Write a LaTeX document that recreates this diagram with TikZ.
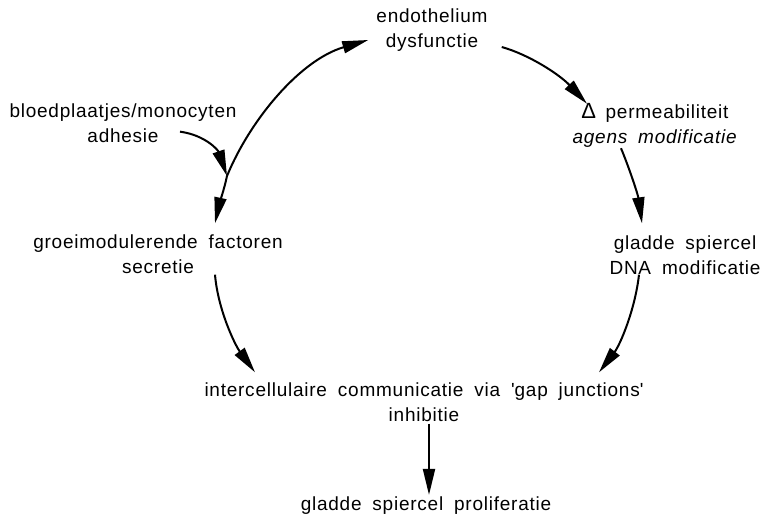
\documentclass[tikz,border=0pt]{standalone}
\usepackage{fontspec}
\setmainfont{Liberation Sans}[LetterSpace=4,WordSpace=1.8]
\usetikzlibrary{arrows.meta}
\begin{document}
\begin{tikzpicture}[x=1pt,y=-1pt,
  lbl/.style={align=center,inner sep=2pt,font=\fontsize{19}{25}\selectfont},
  conn/.style={line width=2pt,-{Triangle[length=26pt,width=12pt]}}]
\useasboundingbox (0,0) rectangle (768,519);
\node[lbl] (endo) at (432,30) {endothelium\\dysfunctie};
\node[lbl] (perm) at (655,125) {{\fontsize{22}{25}\selectfont Δ}\hspace{0.5em}permeabiliteit\\\textit{agens modificatie}};
\node[lbl] (dna) at (685,255) {gladde spiercel\\DNA modificatie};
\node[lbl] (bloed) at (123,123) {bloedplaatjes/monocyten\\adhesie};
\node[lbl] (groei) at (158,254) {groeimodulerende factoren\\secretie};
\node[lbl] (inter) at (424,402) {intercellulaire communicatie via \textquotesingle gap junctions\textquotesingle\\inhibitie};
\node[lbl] (prol) at (426,506) {gladde spiercel proliferatie};
\coordinate (J) at (227,176);
% cycle
\draw[conn] (J) .. controls (250,120) and (300,60) .. ([shift={(-6,10)}]endo.west);
\draw[conn] (J) .. controls (224,190) and (219,205) .. ([shift={(57,-9)}]groei.north);
\draw[conn] ([shift={(57,-13)}]bloed.south) .. controls (205,135) and (218,150) .. (J);
\draw[conn] ([shift={(12,17)}]endo.east) .. controls (530,55) and (560,75) .. ([shift={(-68,3)}]perm.north);
\draw[conn] ([shift={(-34,-1)}]perm.south) .. controls (630,170) and (638,195) .. ([shift={(-43,-10)}]dna.north);
\draw[conn] ([shift={(-46,-2)}]dna.south) .. controls (635,310) and (620,345) .. ([shift={(175,-8)}]inter.north);
\draw[conn] ([shift={(57,-1)}]groei.south) .. controls (218,310) and (235,345) .. ([shift={(-169,-8)}]inter.north);
\draw[conn] ([xshift=5pt]inter.south) -- ([xshift=3pt]prol.north);
\end{tikzpicture}
\end{document}
